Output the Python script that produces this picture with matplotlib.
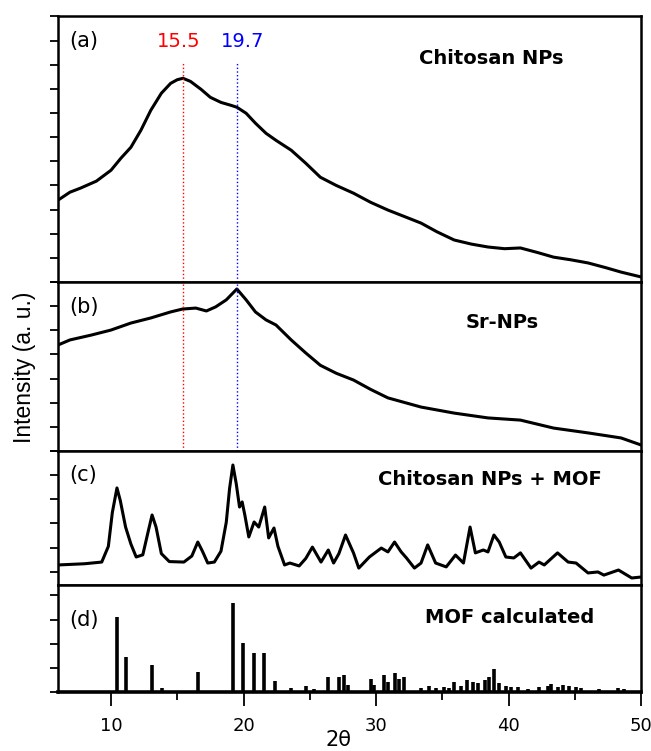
import numpy as np
import matplotlib.pyplot as plt

# ---- data (panel units: one y tick = 1) ----
# (a) Chitosan NPs
x_a = [6.0, 6.9, 7.7, 8.9, 10.0, 10.75, 11.5, 12.26, 13.0, 13.8, 14.5, 15.0, 15.43, 16.0,
       16.8, 17.5, 18.3, 19.05, 19.5, 20.2, 20.9, 21.7, 22.45, 23.6, 24.7, 25.8,
       27.0, 28.3, 29.6, 30.9, 32.2, 33.4, 34.6, 35.9, 37.2, 38.45, 39.7, 40.9, 42.2,
       43.4, 44.7, 46.0, 47.3, 48.5, 50.0]
y_a = [3.39, 3.72, 3.89, 4.18, 4.63, 5.13, 5.58, 6.29, 7.11, 7.82, 8.23, 8.38, 8.44, 8.31,
       7.98, 7.65, 7.44, 7.32, 7.24, 6.99, 6.58, 6.16, 5.87, 5.46, 4.92, 4.34,
       4.00, 3.68, 3.30, 2.98, 2.70, 2.44, 2.08, 1.74, 1.57, 1.45, 1.38, 1.41, 1.22,
       1.03, 0.92, 0.79, 0.60, 0.41, 0.21]

# (b) Sr-NPs
x_b = [6.0, 6.9, 8.5, 10.0, 11.5, 13.0, 14.5, 15.4, 16.4, 17.2, 17.9, 18.7, 19.5,
       20.2, 20.9, 21.7, 22.45, 23.6, 24.7, 25.8, 27.0, 28.3, 29.6, 30.9, 33.4, 35.9,
       38.45, 40.9, 43.4, 46.0, 48.5, 50.0]
y_b = [4.39, 4.60, 4.80, 5.01, 5.30, 5.51, 5.76, 5.88, 5.92, 5.80, 5.97, 6.26, 6.71,
       6.26, 5.76, 5.43, 5.22, 4.60, 4.06, 3.55, 3.22, 2.94, 2.55, 2.20, 1.82, 1.57,
       1.37, 1.28, 0.95, 0.75, 0.54, 0.25]

# (c) Chitosan NPs + MOF
x_c = [6.0, 8.0, 9.3, 9.8, 10.1, 10.45, 10.7, 11.1, 11.5, 11.9, 12.4, 12.8, 13.1,
       13.4, 13.8, 14.4, 15.5, 16.1, 16.55, 16.9, 17.3, 17.8, 18.3, 18.7, 18.95, 19.2,
       19.45, 19.7, 19.9, 20.1, 20.4, 20.8, 21.15, 21.6, 21.9, 22.3, 22.6, 23.1,
       23.5, 24.2, 24.7, 25.2, 25.85, 26.4, 26.8, 27.2, 27.7, 28.3, 28.7, 29.5,
       30.4, 30.9, 31.4, 31.9, 32.3, 32.9, 33.4, 33.9, 34.5, 35.3, 36.0, 36.6,
       37.1, 37.5, 38.1, 38.45, 38.9, 39.3, 39.8, 40.4, 40.9, 41.7, 42.3, 42.7,
       43.7, 44.5, 45.1, 46.0, 46.75, 47.2, 48.3, 49.3, 50.0]
y_c = [0.83, 0.88, 0.95, 1.6, 3.0, 4.02, 3.5, 2.40, 1.70, 1.16, 1.25, 2.2, 2.90,
       2.4, 1.3, 0.97, 0.95, 1.2, 1.78, 1.4, 0.91, 0.95, 1.4, 2.6, 4.0, 4.97,
       4.2, 3.23, 3.44, 2.9, 1.99, 2.61, 2.40, 3.23, 1.95, 2.36, 1.6, 0.83,
       0.91, 0.79, 1.1, 1.57, 0.95, 1.45, 0.91, 1.3, 2.07, 1.33, 0.70, 1.16,
       1.53, 1.37, 1.78, 1.37, 1.12, 0.70, 0.91, 1.66, 0.91, 0.75, 1.24, 0.91,
       2.40, 1.33, 1.45, 1.37, 2.07, 1.78, 1.16, 1.12, 1.33, 0.70, 0.95, 0.83,
       1.33, 0.95, 0.91, 0.50, 0.54, 0.41, 0.62, 0.29, 0.33]

# (d) MOF calculated: peak positions and heights
pk_d = [10.45, 11.13, 13.1, 13.85, 16.55, 19.2, 19.95, 20.8, 21.55, 22.4, 23.6,
        24.7, 25.3, 26.4, 27.2, 27.6, 27.9, 29.6, 29.85, 30.6, 30.9, 31.4, 31.7,
        32.1, 33.4, 34.0, 34.5, 35.1, 35.5, 35.9, 36.4, 36.9, 37.3, 37.7, 38.2,
        38.5, 38.9, 39.3, 39.8, 40.2, 40.7, 41.5, 42.3, 43.0, 43.2, 43.7, 44.1,
        44.6, 45.1, 45.5, 46.8, 48.3, 48.7]
h_d = [3.11, 1.45, 1.12, 0.17, 0.83, 3.69, 2.03, 1.62, 1.62, 0.46, 0.17,
       0.25, 0.12, 0.62, 0.62, 0.70, 0.29, 0.54, 0.29, 0.70, 0.41, 0.79, 0.54,
       0.62, 0.17, 0.25, 0.17, 0.21, 0.17, 0.41, 0.25, 0.50, 0.41, 0.37, 0.50,
       0.62, 0.95, 0.37, 0.25, 0.21, 0.21, 0.12, 0.21, 0.25, 0.33, 0.21, 0.29,
       0.25, 0.21, 0.17, 0.12, 0.17, 0.12]

names = ["Chitosan NPs", "Sr-NPs", "Chitosan NPs + MOF", "MOF calculated"]
tags = ["(a)", "(b)", "(c)", "(d)"]
peak_red, peak_blue = 15.5, 19.7

fig = plt.figure(figsize=(6.51, 7.51), dpi=100)
gs = fig.add_gridspec(4, 1, height_ratios=[266, 169, 134, 107], hspace=0,
                      left=58/651, right=641/651, top=1-16/751, bottom=1-692/751)
axs = [fig.add_subplot(gs[i]) for i in range(4)]

lw = 2.2
axs[0].plot(x_a, y_a, color="black", lw=lw)
axs[1].plot(x_b, y_b, color="black", lw=lw)
axs[2].plot(x_c, y_c, color="black", lw=lw)
axs[3].vlines(pk_d, 0, h_d, color="black", lw=2.6)

ylims = [(0, 11.02), (0, 7.0), (0, 5.55), (0, 4.43)]
yticks = [np.arange(0, 12), np.arange(0, 8), np.arange(0.55, 5.6, 1), np.arange(0, 5)]
for i, ax in enumerate(axs):
    ax.set_xlim(6, 50)
    ax.set_ylim(*ylims[i])
    ax.set_yticks(yticks[i])
    ax.set_yticklabels([])
    ax.tick_params(axis="y", direction="out", length=6, width=1.3)
    for s in ax.spines.values():
        s.set_linewidth(1.8)
    if i < 3:
        ax.tick_params(axis="x", bottom=False, labelbottom=False)
    ax.text(0.019, [0.906, 0.852, 0.821, 0.673][i], tags[i], transform=ax.transAxes,
            fontsize=15, ha="left", va="center")
    ax.text([0.743, 0.762, 0.741, 0.775][i], [0.842, 0.763, 0.784, 0.692][i], names[i],
            transform=ax.transAxes, fontsize=14, fontweight="bold", ha="center", va="center")

ax = axs[3]
ax.spines["bottom"].set_linewidth(2.6)
ax.set_xticks([10, 20, 30, 40, 50])
ax.set_xticks([15, 25, 35, 45], minor=True)
ax.tick_params(axis="x", which="major", direction="out", length=10, width=1.3, labelsize=13, pad=8)
ax.tick_params(axis="x", which="minor", direction="out", length=6, width=1.3)

# dotted markers through (a) and (b)
axs[0].axvline(15.43, ymax=0.823, color="red", ls=":", lw=1)
axs[0].axvline(19.5, ymax=0.823, color="blue", ls=":", lw=1)
axs[1].axvline(15.43, color="red", ls=":", lw=1)
axs[1].axvline(19.5, color="blue", ls=":", lw=1)
axs[0].text(15.1, 0.906, str(peak_red), color="red", fontsize=14, ha="center", va="center",
            transform=axs[0].get_xaxis_transform())
axs[0].text(19.95, 0.906, str(peak_blue), color="blue", fontsize=14, ha="center", va="center",
            transform=axs[0].get_xaxis_transform())

fig.text(25/651, 1-367/751, "Intensity (a. u.)", rotation=90, ha="center", va="center",
         fontsize=16.5, family="Liberation Sans")
fig.text(338/651, 1-740/751, "2θ", ha="center", va="center", fontsize=15)

fig.savefig("out.png", dpi=100)
